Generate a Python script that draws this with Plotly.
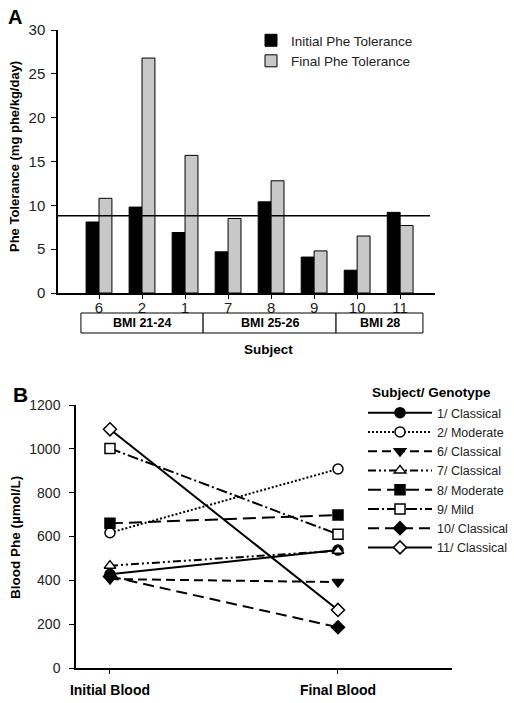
import plotly.graph_objects as go

W, H = 514, 703

# ---- Panel A data ----
subjects_a = ["6", "2", "1", "7", "8", "9", "10", "11"]
initial_tol = [8.1, 9.8, 6.9, 4.7, 10.4, 4.1, 2.6, 9.2]
final_tol = [10.8, 26.8, 15.7, 8.5, 12.8, 4.8, 6.5, 7.7]
ref_line = 8.8
bmi_groups = ["BMI 21-24", "BMI 25-26", "BMI 28"]
bmi_bounds = [-0.42, 2.42, 5.51, 7.53]

# ---- Panel B data ----
timepoints = ["Initial Blood", "Final Blood"]
series_names = ["1/ Classical", "2/ Moderate", "6/ Classical", "7/ Classical",
                "8/ Moderate", "9/ Mild", "10/ Classical", "11/ Classical"]
initial_phe = [428, 617, 406, 467, 660, 1002, 418, 1089]
final_phe = [538, 908, 392, 535, 698, 610, 186, 265]
symbols = ["circle", "circle", "triangle-down", "triangle-up",
           "square", "square", "diamond", "diamond"]
filled = [True, False, True, False, True, False, True, False]
dashes = ["solid", "2px,2px", "9px,5px", "8px,3px,2px,3px,2px,3px", "13px,6px",
          "11px,3px,2px,3px", "11px,6px", "solid"]

FONT = "Liberation Sans, Arial, sans-serif"

def px_x(p):
    return p / W

def px_y(p):
    return 1 - p / H

fig = go.Figure()

fig.add_trace(go.Bar(x=list(range(len(subjects_a))), y=initial_tol, name="Initial Phe Tolerance",
                     marker=dict(color="black", line=dict(color="black", width=1)),
                     xaxis="x", yaxis="y", legend="legend"))
fig.add_trace(go.Bar(x=list(range(len(subjects_a))), y=final_tol, name="Final Phe Tolerance",
                     marker=dict(color="#c8c8c8", line=dict(color="black", width=1)),
                     xaxis="x", yaxis="y", legend="legend"))

for i, nm in enumerate(series_names):
    fig.add_trace(go.Scatter(
        x=[0, 1], y=[initial_phe[i], final_phe[i]], name=nm, mode="lines+markers",
        line=dict(color="black", width=2, dash=dashes[i]),
        marker=dict(symbol=symbols[i], size=10, color="black" if filled[i] else "white",
                    line=dict(color="black", width=1.5)),
        xaxis="x2", yaxis="y2", legend="legend2", cliponaxis=False))

fig.update_layout(
    width=W, height=H, margin=dict(l=0, r=0, t=0, b=0, autoexpand=False),
    paper_bgcolor="white", plot_bgcolor="white",
    font=dict(family=FONT, color="black", size=13),
    barmode="group", bargap=0.4, bargroupgap=0,
    xaxis=dict(domain=[px_x(58), px_x(435)], anchor="y", range=[-0.953, 7.81],
               tickvals=list(range(len(subjects_a))), ticktext=subjects_a,
               showline=True, linecolor="black", linewidth=2, ticks="outside", ticklen=4,
               tickcolor="black", ticklabelstandoff=-4,
               tickfont=dict(size=15, color="#222"), showgrid=False, zeroline=False),
    yaxis=dict(domain=[px_y(293), px_y(30)], anchor="x", range=[0, 30],
               tickvals=[0, 5, 10, 15, 20, 25, 30],
               showline=True, linecolor="black", linewidth=1.5, ticks="outside", ticklen=5,
               tickcolor="black", ticklabelstandoff=3,
               tickfont=dict(size=15, color="#222"), showgrid=False, zeroline=False),
    xaxis2=dict(domain=[px_x(76), px_x(452)], anchor="y2", range=[-0.149, 1.5],
                tickvals=[0, 1], ticktext=timepoints,
                showline=True, linecolor="black", linewidth=1.5, ticks="outside", ticklen=4,
                tickcolor="black", ticklabelstandoff=4,
                tickfont=dict(size=14, color="black", weight="bold"), showgrid=False, zeroline=False),
    yaxis2=dict(domain=[px_y(668), px_y(405)], anchor="x2", range=[0, 1200],
                tickvals=[0, 200, 400, 600, 800, 1000, 1200],
                showline=True, linecolor="black", linewidth=1.5, ticks="outside", ticklen=5,
                tickcolor="black", ticklabelstandoff=6,
                tickfont=dict(size=14, color="#222"), showgrid=False, zeroline=False),
    legend=dict(x=px_x(251), y=px_y(25), xanchor="left", yanchor="top",
                font=dict(size=13.5, color="#222"), bgcolor="rgba(0,0,0,0)", itemwidth=30),
    legend2=dict(x=px_x(363), y=px_y(398), xanchor="left", yanchor="top",
                 font=dict(size=12.5, color="#222"), bgcolor="rgba(0,0,0,0)", itemwidth=64),
    showlegend=True,
)

shapes = [dict(type="line", xref="x domain", yref="y", x0=0, x1=(430 - 58) / (435 - 58),
               y0=ref_line, y1=ref_line, line=dict(color="black", width=1.5))]
annotations = []
for g in range(len(bmi_groups)):
    shapes.append(dict(type="rect", xref="x", yref="paper",
                       x0=bmi_bounds[g], x1=bmi_bounds[g + 1], y0=px_y(333), y1=px_y(313),
                       line=dict(color="black", width=1), fillcolor="white"))
    annotations.append(dict(x=(bmi_bounds[g] + bmi_bounds[g + 1]) / 2, y=px_y(323), xref="x", yref="paper",
                            text="<b>%s</b>" % bmi_groups[g], showarrow=False,
                            xanchor="center", yanchor="middle",
                            font=dict(size=12.5, color="black")))

def ann(x, y, text, size, angle=0):
    return dict(x=px_x(x), y=px_y(y), xref="paper", yref="paper", text=text,
                showarrow=False, textangle=angle, xanchor="center", yanchor="middle",
                font=dict(size=size, color="black"))

annotations += [
    ann(268, 349, "<b>Subject</b>", 13.5),
    ann(14, 157, "<b>Phe Tolerance (mg phe/kg/day)</b>", 13, -90),
    ann(15, 538, "<b>Blood Phe (µmol/L)</b>", 13.5, -90),
    ann(15, 17, "<b>A</b>", 20),
    ann(20, 395, "<b>B</b>", 21),
    ann(431, 392, "<b>Subject/ Genotype</b>", 13.5),
]
fig.update_layout(shapes=shapes, annotations=annotations)

fig.write_html("out.html", config={"displayModeBar": False},
               post_script="document.body.style.margin='0px';document.body.style.overflow='hidden';")
